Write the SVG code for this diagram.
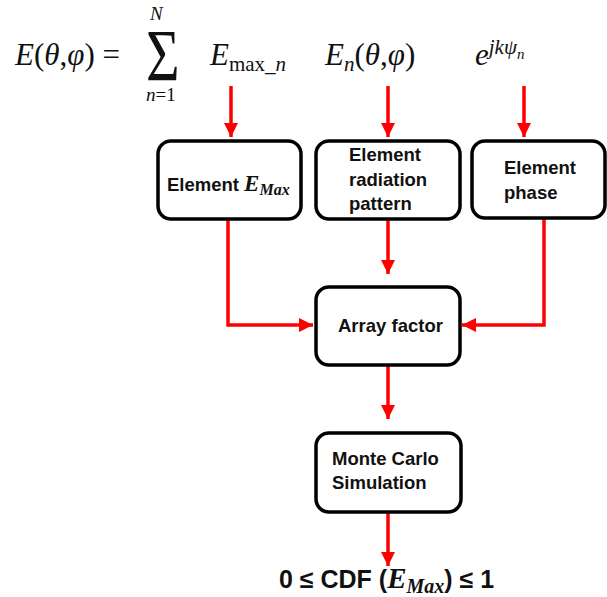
<svg xmlns="http://www.w3.org/2000/svg" width="607" height="597" viewBox="0 0 607 597">
<style>
.box{fill:#fff;stroke:#000;stroke-width:3.5}
.ln{fill:none;stroke:#f00;stroke-width:3.5}
.lbl{font-family:"Liberation Sans",Arial,sans-serif;font-weight:bold;font-size:18.5px;fill:#111}
.big{font-size:25px}
.m{font-family:"Liberation Serif","Times New Roman",serif;font-style:italic;fill:#111}
.r{font-family:"Liberation Serif","Times New Roman",serif;font-style:normal;fill:#111}
</style>
<defs>
<marker id="ah" viewBox="0 0 10 10" refX="10" refY="5" markerWidth="4" markerHeight="4" orient="auto" markerUnits="strokeWidth">
<path d="M0,0 L10,5 L0,10 z" fill="#f00"/>
</marker>
</defs>
<g id="formula">
<text x="15" y="65" class="m" font-size="31">E<tspan class="r">(</tspan>θ<tspan class="r">,</tspan>φ<tspan class="r">) =</tspan></text>
<text class="r" font-size="74" transform="translate(146,81) scale(0.78,1)">Σ</text>
<text x="150" y="20" class="m" font-size="19">N</text>
<text x="146" y="101" class="m" font-size="19">n<tspan class="r">=1</tspan></text>
<text x="210" y="65" class="m" font-size="31">E<tspan class="r" font-size="21" dy="6">max_</tspan><tspan font-size="21">n</tspan></text>
<text x="325" y="65" class="m" font-size="31">E<tspan font-size="21" dy="6">n</tspan><tspan class="r" dy="-6">(</tspan>θ<tspan class="r">,</tspan>φ<tspan class="r">)</tspan></text>
<text x="475" y="65" class="m" font-size="31">e<tspan font-size="21" dy="-11">jkψ</tspan><tspan font-size="15" dy="5">n</tspan></text>
</g>
<g id="connectors">
<line class="ln" x1="231" y1="86" x2="231" y2="137" marker-end="url(#ah)"/>
<line class="ln" x1="388" y1="86" x2="388" y2="137" marker-end="url(#ah)"/>
<line class="ln" x1="524" y1="86" x2="524" y2="137" marker-end="url(#ah)"/>
<polyline class="ln" points="228,219 228,325 313,325" marker-end="url(#ah)"/>
<line class="ln" x1="388" y1="219" x2="388" y2="274" marker-end="url(#ah)"/>
<polyline class="ln" points="544,217 544,325 462,325" marker-end="url(#ah)"/>
<line class="ln" x1="388" y1="365" x2="388" y2="419" marker-end="url(#ah)"/>
<line class="ln" x1="388" y1="512" x2="388" y2="566" marker-end="url(#ah)"/>
</g>
<g id="node-emax">
<rect class="box" x="158" y="141" width="143" height="78" rx="13"/>
<text x="167" y="191" class="lbl">Element <tspan class="m" font-size="23">E</tspan><tspan class="m" font-size="16" dy="4">Max</tspan></text>
</g>
<g id="node-pattern">
<rect class="box" x="316" y="141" width="144" height="78" rx="13"/>
<text x="349" y="161" class="lbl">Element</text>
<text x="349" y="186" class="lbl">radiation</text>
<text x="349" y="210" class="lbl">pattern</text>
</g>
<g id="node-phase">
<rect class="box" x="472" y="141" width="133" height="77" rx="13"/>
<text x="504" y="174" class="lbl">Element</text>
<text x="504" y="199" class="lbl">phase</text>
</g>
<g id="node-array">
<rect class="box" x="316" y="287" width="144" height="78" rx="13"/>
<text x="338" y="332" class="lbl">Array factor</text>
</g>
<g id="node-mc">
<rect class="box" x="316" y="433" width="145" height="79" rx="13"/>
<text x="332" y="465" class="lbl">Monte Carlo</text>
<text x="332" y="489" class="lbl">Simulation</text>
</g>
<g id="output">
<text x="279" y="588" class="lbl big">0 ≤ CDF (<tspan class="m" font-size="29">E</tspan><tspan class="m" font-size="20" dy="5">Max</tspan><tspan dy="-5">) ≤ 1</tspan></text>
</g>
</svg>
